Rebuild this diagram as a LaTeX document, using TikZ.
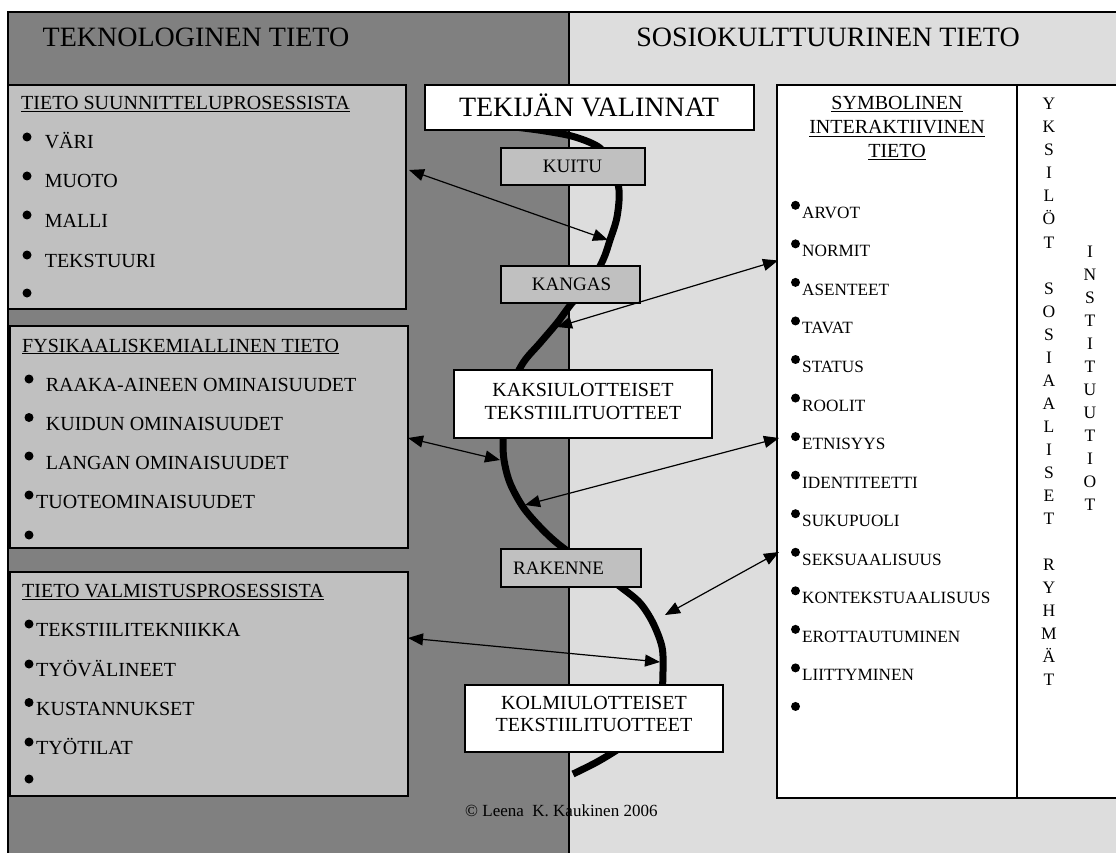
\documentclass[tikz,border=0pt]{standalone}
\usepackage{fontspec}
\setmainfont{Liberation Serif}
\usetikzlibrary{arrows.meta}
\definecolor{darkpanel}{HTML}{808080}
\definecolor{lightpanel}{HTML}{DDDDDD}
\definecolor{boxgray}{HTML}{C0C0C0}
\begin{document}
\begin{tikzpicture}[x=1pt,y=-1pt,
  framebox/.style={draw=black, line width=1.6pt, inner sep=0pt, outer sep=0pt, anchor=north west},
  graybox/.style={framebox, fill=boxgray},
  whitebox/.style={framebox, fill=white},
  lbl/.style={inner sep=0pt, anchor=base west, font=\fontsize{20}{24}\selectfont},
  ritem/.style={inner sep=0pt, anchor=base west, font=\fontsize{17.2}{20}\selectfont},
  ctr/.style={inner sep=0pt, anchor=base, font=\fontsize{20}{24}\selectfont},
  smallctr/.style={inner sep=0pt, anchor=base, font=\fontsize{19}{22}\selectfont},
  vletter/.style={inner sep=0pt, anchor=base, font=\fontsize{17.5}{20}\selectfont},
  bigtxt/.style={inner sep=0pt, anchor=base, font=\fontsize{28}{32}\selectfont},
  bulletdot/.style={fill=black},
  link/.style={{Triangle[length=15pt,width=12pt]}-{Triangle[length=15pt,width=12pt]}, line width=1.2pt},
  thread/.style={line width=7pt, line join=round}
]
\useasboundingbox (0,0) rectangle (1116,853);
\clip (0,0) rectangle (1116,853);

% panels
\fill[darkpanel] (8,12) rectangle (569,853);
\fill[lightpanel] (569,12) rectangle (1116,853);
\draw[line width=1.3pt] (8,853) -- (8,12) -- (1116,12);
\draw[line width=1.3pt] (569,12) -- (569,853);

\node[bigtxt] (hleft) at (196,46.7) {TEKNOLOGINEN TIETO};
\node[bigtxt] (hright) at (828,46.7) {SOSIOKULTTUURINEN TIETO};

% thick thread
\draw[thread] plot[smooth, tension=0.55] coordinates {(515,127) (545,131) (575,137) (600,148) (612,166) (619,190) (617,217) (610,240) (603,260) (590,283) (572,303) (557,323) (540,343) (523,363) (510,390) (504,415) (503,440) (504,460) (510,483) (523,507) (540,527) (557,543) (580,560) (605,576) (622,588) (640,603) (653,623) (662,647) (663,670) (662,690) (657,712) (643,732) (620,748) (597,762) (573,774)};

% left boxes
\node[graybox, minimum width=398pt, minimum height=224pt] (b1) at (8,85) {};
\node[graybox, minimum width=398pt, minimum height=222pt] (b2) at (10,326) {};
\node[graybox, minimum width=398pt, minimum height=224pt] (b3) at (10,572) {};

% box 1
\node[lbl] (b1t) at (21,110) {\underline{TIETO SUUNNITTELUPROSESSISTA}};
\foreach \t/\y [count=\i] in {VÄRI/149, MUOTO/188, MALLI/227, TEKSTUURI/267}
  \node[lbl] (b1i\i) at (44.6,\y) {\t};
\foreach \y in {137,176,215,255,293}
  \fill[bulletdot] (27,\y) circle[radius=4.5pt];

% box 2
\node[lbl] (b2t) at (22,352) {\underline{FYSIKAALISKEMIALLINEN TIETO}};
\foreach \t/\y [count=\i] in {RAAKA-AINEEN OMINAISUUDET/391.7, KUIDUN OMINAISUUDET/430.7, LANGAN OMINAISUUDET/469.3}
  \node[lbl] (b2i\i) at (45.7,\y) {\t};
\node[lbl] (b2i4) at (36,508.3) {TUOTEOMINAISUUDET};
\foreach \y in {379,417.5,456,495,535}
  \fill[bulletdot] (29,\y) circle[radius=4.5pt];

% box 3
\node[lbl] (b3t) at (22,597) {\underline{TIETO VALMISTUSPROSESSISTA}};
\foreach \t/\y [count=\i] in {TEKSTIILITEKNIIKKA/636.7, TYÖVÄLINEET/676.7, KUSTANNUKSET/715, TYÖTILAT/754}
  \node[lbl] (b3i\i) at (36,\y) {\t};
\foreach \y in {624,664,702.5,742,779}
  \fill[bulletdot] (29,\y) circle[radius=4.5pt];

% centre boxes
\node[whitebox, minimum width=329pt, minimum height=45pt] (tv) at (425,85) {};
\node[bigtxt] (tvt) at (589,116.7) {TEKIJÄN VALINNAT};
\node[graybox, minimum width=144pt, minimum height=37pt] (kuitu) at (501,148) {};
\node[smallctr] (kuitut) at (572.5,172.3) {KUITU};
\node[graybox, minimum width=139pt, minimum height=37pt] (kangas) at (501,266) {};
\node[smallctr] (kangast) at (571.5,290.7) {KANGAS};
\node[whitebox, minimum width=258pt, minimum height=68pt] (kaksi) at (454,370) {};
\node[ctr] (kaksit1) at (583,396.7) {KAKSIULOTTEISET};
\node[ctr] (kaksit2) at (583,419.3) {TEKSTIILITUOTTEET};
\node[graybox, minimum width=140pt, minimum height=38pt] (rakenne) at (501,549) {};
\node[inner sep=0pt, anchor=base west, font=\fontsize{19}{22}\selectfont] (rakennet) at (513,574.3) {RAKENNE};
\node[whitebox, minimum width=258pt, minimum height=67pt] (kolmi) at (465,685) {};
\node[ctr] (kolmit1) at (594,709.3) {KOLMIULOTTEISET};
\node[ctr] (kolmit2) at (594,731.7) {TEKSTIILITUOTTEET};

\node[inner sep=0pt, anchor=base west, font=\fontsize{17}{20}\selectfont] (copy) at (465,816.7) {© Leena\ \ K. Kaukinen 2006};

% right box
\node[whitebox, minimum width=360pt, minimum height=713pt] (sym) at (777,85) {};
\draw[line width=1.6pt] (1017,85) -- (1017,798);
\node[ctr] (st1) at (897,110) {\underline{SYMBOLINEN}};
\node[ctr] (st2) at (897,134) {\underline{INTERAKTIIVINEN}};
\node[ctr] (st3) at (897,157.3) {\underline{TIETO}};
\foreach \t [count=\i from 0] in {ARVOT, NORMIT, ASENTEET, TAVAT, STATUS, ROOLIT, ETNISYYS, IDENTITEETTI, SUKUPUOLI, SEKSUAALISUUS, KONTEKSTUAALISUUS, EROTTAUTUMINEN, LIITTYMINEN}
  \node[ritem] (ri\i) at (802,218.3+38.55*\i) {\t};
\foreach \i in {0,...,13}
  \fill[bulletdot] (795.5,205.3+38.55*\i) circle[radius=4.5pt];

\foreach \l [count=\i from 0] in {Y,K,S,I,L,Ö,T,{},S,O,S,I,A,A,L,I,S,E,T,{},R,Y,H,M,Ä,T}
  \node[vletter] (va\i) at (1049,110+23*\i) {\l};
\foreach \l [count=\i from 0] in {I,N,S,T,I,T,U,U,T,I,O,T}
  \node[vletter] (vb\i) at (1090,257.3+23*\i) {\l};

% arrows
\coordinate (q1) at (409,170); \coordinate (p1) at (608,240);
\coordinate (q2) at (557,327); \coordinate (p2) at (778,260.5);
\coordinate (q3) at (408,438); \coordinate (p3) at (500,460);
\coordinate (q4) at (525,505); \coordinate (p4) at (779,438);
\coordinate (q5) at (665,615); \coordinate (p5) at (779,552);
\coordinate (q6) at (408,638); \coordinate (p6) at (660,662);
\draw[link] (q1) -- (p1);
\draw[link] (q2) -- (p2);
\draw[link] (q3) -- (p3);
\draw[link] (q4) -- (p4);
\draw[link] (q5) -- (p5);
\draw[link] (q6) -- (p6);
\end{tikzpicture}
\end{document}
